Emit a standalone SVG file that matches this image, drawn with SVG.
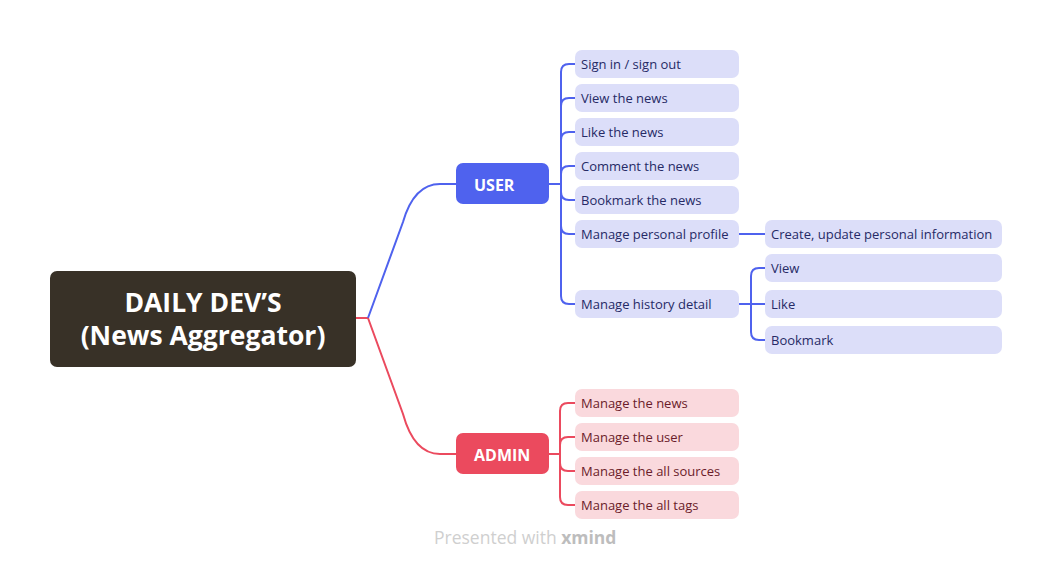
<svg xmlns="http://www.w3.org/2000/svg" width="1052" height="569" viewBox="0 0 1052 569">
<style>
.u{fill:#DCDEF9}
.a{fill:#FAD9DD}
.ut{font-family:"Open Sans","Liberation Sans",sans-serif;font-size:13px;fill:#262a66}
.at{font-family:"Open Sans","Liberation Sans",sans-serif;font-size:13px;fill:#6a1c2a}
.bl{fill:none;stroke:#4F62EE;stroke-width:2}
.rd{fill:none;stroke:#EB4A5E;stroke-width:2}
.mt{font-family:"Open Sans","Liberation Sans",sans-serif;font-weight:bold;fill:#fff}
</style>
<rect width="1052" height="569" fill="#fff"/>
<g id="connectors">
<path class="rd" d="M356,318 H368"/>
<path class="bl" d="M368,318 L403,222 Q414,184 440,184 H456"/>
<path class="rd" d="M368,318 L403,414 Q414,454 440,454 H456"/>
<path class="bl" d="M549,184 H561 V72 Q561,64 569,64 H575"/>
<path class="bl" d="M561,184 V106 Q561,98 569,98 H575"/>
<path class="bl" d="M561,184 V140 Q561,132 569,132 H575"/>
<path class="bl" d="M561,184 V174 Q561,166 569,166 H575"/>
<path class="bl" d="M561,184 V192 Q561,200 569,200 H575"/>
<path class="bl" d="M561,184 V226 Q561,234 569,234 H575"/>
<path class="bl" d="M561,184 V296 Q561,304 569,304 H575"/>
<path class="bl" d="M739,234 H765"/>
<path class="bl" d="M739,304 H765"/>
<path class="bl" d="M751,304 V276 Q751,268 759,268 H765"/>
<path class="bl" d="M751,304 V332 Q751,340 759,340 H765"/>
<path class="rd" d="M549,454 H560 V411 Q560,403 568,403 H575"/>
<path class="rd" d="M560,454 V445 Q560,437 568,437 H575"/>
<path class="rd" d="M560,454 V463 Q560,471 568,471 H575"/>
<path class="rd" d="M560,454 V497 Q560,505 568,505 H575"/>
</g>
<g id="root">
<rect x="50" y="271" width="306" height="96" rx="7" fill="#383127"/>
<text class="mt" x="203" y="312" font-size="26.5" font-weight="600" text-anchor="middle">DAILY DEV’S</text>
<text class="mt" x="203" y="345" font-size="26.5" font-weight="600" text-anchor="middle">(News Aggregator)</text>
</g>
<g id="user">
<rect x="456" y="163" width="93" height="41" rx="7" fill="#4F62EE"/>
<text class="mt" x="474" y="191" font-size="16">USER</text>
</g>
<g id="admin">
<rect x="456" y="433" width="93" height="41" rx="7" fill="#EB4A5E"/>
<text class="mt" x="474" y="461" font-size="16">ADMIN</text>
</g>
<g id="u1"><rect class="u" x="575" y="50" width="164" height="28" rx="7"/><text class="ut" x="581" y="69">Sign in / sign out</text></g>
<g id="u2"><rect class="u" x="575" y="84" width="164" height="28" rx="7"/><text class="ut" x="581" y="103">View the news</text></g>
<g id="u3"><rect class="u" x="575" y="118" width="164" height="28" rx="7"/><text class="ut" x="581" y="137">Like the news</text></g>
<g id="u4"><rect class="u" x="575" y="152" width="164" height="28" rx="7"/><text class="ut" x="581" y="171">Comment the news</text></g>
<g id="u5"><rect class="u" x="575" y="186" width="164" height="28" rx="7"/><text class="ut" x="581" y="205">Bookmark the news</text></g>
<g id="u6"><rect class="u" x="575" y="220" width="164" height="28" rx="7"/><text class="ut" x="581" y="239">Manage personal profile</text></g>
<g id="u7"><rect class="u" x="575" y="290" width="164" height="28" rx="7"/><text class="ut" x="581" y="309">Manage history detail</text></g>
<g id="u6a"><rect class="u" x="765" y="220" width="237" height="28" rx="7"/><text class="ut" x="771" y="239">Create, update personal information</text></g>
<g id="u7a"><rect class="u" x="765" y="254" width="237" height="28" rx="7"/><text class="ut" x="771" y="273">View</text></g>
<g id="u7b"><rect class="u" x="765" y="290" width="237" height="28" rx="7"/><text class="ut" x="771" y="309">Like</text></g>
<g id="u7c"><rect class="u" x="765" y="326" width="237" height="28" rx="7"/><text class="ut" x="771" y="345">Bookmark</text></g>
<g id="a1"><rect class="a" x="575" y="389" width="164" height="28" rx="7"/><text class="at" x="581" y="408">Manage the news</text></g>
<g id="a2"><rect class="a" x="575" y="423" width="164" height="28" rx="7"/><text class="at" x="581" y="442">Manage the user</text></g>
<g id="a3"><rect class="a" x="575" y="457" width="164" height="28" rx="7"/><text class="at" x="581" y="476">Manage the all sources</text></g>
<g id="a4"><rect class="a" x="575" y="491" width="164" height="28" rx="7"/><text class="at" x="581" y="510">Manage the all tags</text></g>
<text x="434" y="544" font-family="'Open Sans','Liberation Sans',sans-serif" font-size="17.5" fill="#cfcfcf">Presented with <tspan font-weight="bold" fill="#bdbdbd">xmind</tspan></text>
</svg>
